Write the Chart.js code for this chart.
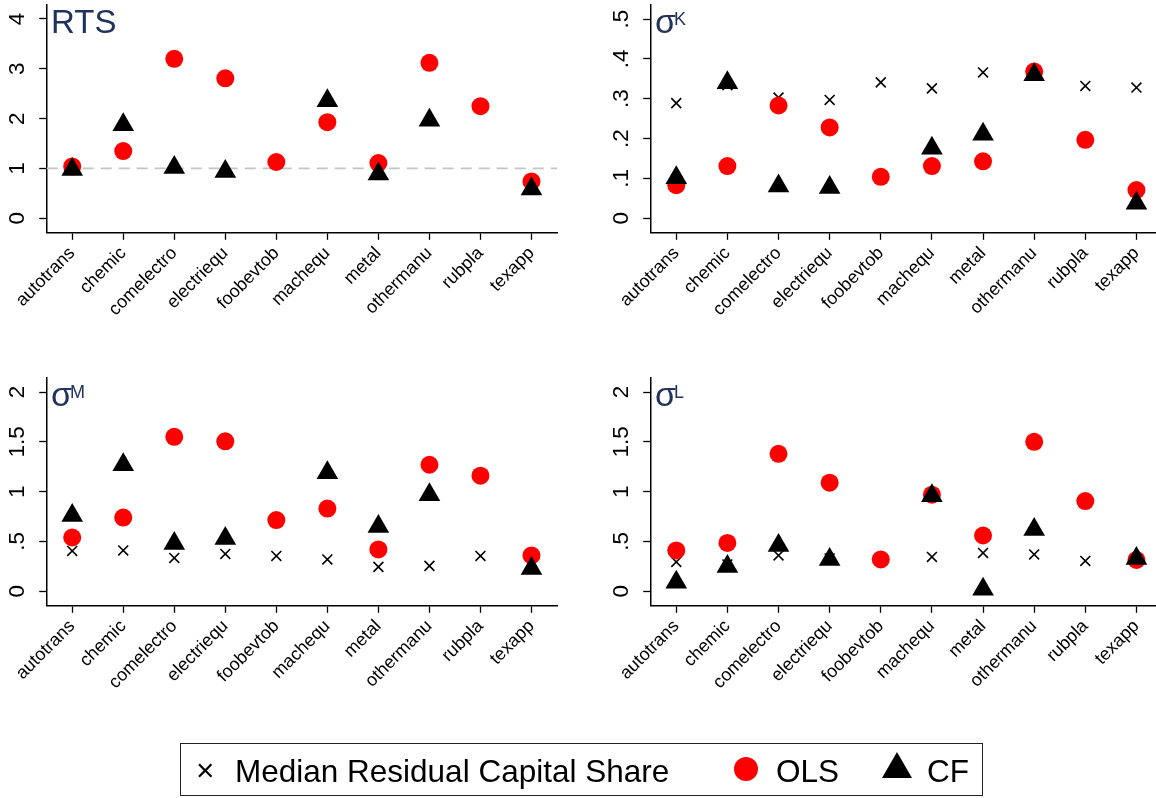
<!DOCTYPE html>
<html lang="en">
<head>
  <meta charset="UTF-8" />
  <title>RTS and elasticities by industry</title>
  <script src="https://cdn.jsdelivr.net/npm/chart.js"></script>
  <style>
    body {
      margin: 0;
      padding: 0;
      background: #ffffff;
      overflow: hidden;
      font-family: "Liberation Sans", Arial, Helvetica, sans-serif;
    }

    .page {
      position: relative;
      width: 1156px;
      height: 798px;
      overflow: hidden;
    }

    canvas {
      position: absolute;
    }

    .ttl {
      position: absolute;
      color: #22325f;
      line-height: 1;
      white-space: nowrap;
    }

    .legend {
      position: absolute;
      left: 180px;
      top: 743px;
      width: 801px;
      height: 51px;
      border: 1.5px solid #222;
    }

    .legend span {
      position: absolute;
      font-size: 31.5px;
      line-height: 1;
      color: #000;
      white-space: nowrap;
    }

    .dot {
      position: absolute;
      width: 24px;
      height: 24px;
      border-radius: 50%;
      background: #ff0000;
    }

    .tri {
      position: absolute;
      width: 0;
      height: 0;
      border-left: 15px solid transparent;
      border-right: 15px solid transparent;
      border-bottom: 26px solid #000;
    }
  </style>
</head>
<body>
  <div class="page">
    <canvas id="rts" width="578" height="372" style="left:0; top:0;"></canvas>
    <canvas id="sigK" width="566" height="372" style="left:604px; top:0;"></canvas>
    <canvas id="sigM" width="578" height="372" style="left:0; top:373px;"></canvas>
    <canvas id="sigL" width="566" height="372" style="left:604px; top:373px;"></canvas>

    <div class="ttl" style="left:51px; top:4.5px; font-size:33px;">RTS</div>
    <div class="ttl" style="left:655px; top:3.5px; font-size:34px;">σ</div>
    <div class="ttl" style="left:674px; top:9.5px; font-size:18px;">K</div>
    <div class="ttl" style="left:51px; top:377px; font-size:34px;">σ</div>
    <div class="ttl" style="left:70px; top:383px; font-size:18px;">M</div>
    <div class="ttl" style="left:655px; top:377px; font-size:34px;">σ</div>
    <div class="ttl" style="left:674px; top:383px; font-size:18px;">L</div>

    <div class="legend">
      <span style="left:15px; top:11px;">×</span>
      <span style="left:54px; top:11.5px;">Median Residual Capital Share</span>
      <div class="dot" style="left:553px; top:13px;"></div>
      <span style="left:595px; top:11.5px;">OLS</span>
      <div class="tri" style="left:701px; top:8px;"></div>
      <span style="left:746px; top:11.5px;">CF</span>
    </div>
  </div>

  <script>
    const industries = ['autotrans', 'chemic', 'comelectro', 'electriequ', 'foobevtob',
                        'machequ', 'metal', 'othermanu', 'rubpla', 'texapp'];

    // RTS panel (no median residual capital share here)
    const rtsOLS = [1.04, 1.35, 3.20, 2.81, 1.13, 1.93, 1.11, 3.12, 2.25, 0.74];
    const rtsCF  = [0.98, 1.88, 1.02, 0.94, null, 2.36, 0.89, 1.97, null, 0.59];
    const rtsTicks = [0, 1, 2, 3, 4];

    // sigma K
    const sigKMedian = [0.289, 0.334, 0.303, 0.297, 0.341, 0.326, 0.366, 0.370, 0.332, 0.328];
    const sigKOLS    = [0.083, 0.131, 0.283, 0.228, 0.104, 0.131, 0.143, 0.368, 0.197, 0.071];
    const sigKCF     = [0.102, 0.340, 0.081, 0.077, null, 0.176, 0.211, 0.360, null, 0.038];
    const sigKTicks = [0, 0.1, 0.2, 0.3, 0.4, 0.5];

    // sigma M
    const sigMMedian = [0.405, 0.410, 0.335, 0.375, 0.355, 0.320, 0.245, 0.255, 0.355, 0.300];
    const sigMOLS    = [0.54, 0.74, 1.55, 1.505, 0.715, 0.83, 0.42, 1.27, 1.16, 0.36];
    const sigMCF     = [0.76, 1.27, 0.48, 0.53, null, 1.19, 0.65, 0.97, null, 0.23];

    // sigma L
    const sigLMedian = [0.295, 0.270, 0.360, 0.330, 0.320, 0.345, 0.385, 0.370, 0.305, 0.330];
    const sigLOLS    = [0.41, 0.485, 1.38, 1.09, 0.32, 0.97, 0.56, 1.50, 0.905, 0.315];
    const sigLCF     = [0.09, 0.25, 0.46, 0.32, null, 0.96, 0.02, 0.62, null, 0.33];
    const sigMLTicks = [0, 0.5, 1, 1.5, 2];

    const FONT = '"Liberation Sans", Arial, Helvetica, sans-serif';

    function fmtTick(v) {
      if (v === 0) return '0';
      const s = String(Math.round(v * 100) / 100);
      return s.startsWith('0.') ? s.slice(1) : s;
    }

    // grey dashed line at y = 1 on the RTS panel
    const refLine = {
      id: 'refLine',
      beforeDatasetsDraw(chart, args, opts) {
        if (opts.value == null) return;
        const { ctx, chartArea } = chart;
        const y = chart.scales.y.getPixelForValue(opts.value);
        ctx.save();
        ctx.strokeStyle = '#c4c4c4';
        ctx.lineWidth = 1.8;
        ctx.setLineDash([11, 7]);
        ctx.beginPath();
        ctx.moveTo(chartArea.left, y);
        ctx.lineTo(chartArea.right, y);
        ctx.stroke();
        ctx.restore();
      }
    };

    function medianSet(data) {
      return {
        label: 'Median Residual Capital Share', data: data, order: 3,
        pointStyle: 'crossRot', pointRadius: 7, borderColor: '#000', borderWidth: 1.6,
        backgroundColor: 'rgba(0,0,0,0)', showLine: false
      };
    }
    function olsSet(data) {
      return {
        label: 'OLS', data: data, order: 2,
        pointStyle: 'circle', pointRadius: 9, backgroundColor: '#ff0000', borderWidth: 0, showLine: false
      };
    }
    function cfSet(data) {
      return {
        label: 'CF', data: data, order: 1,
        pointStyle: 'triangle', pointRadius: 12.5, backgroundColor: '#000', borderWidth: 0, showLine: false
      };
    }

    function makePanel(id, datasets, ticks, yMin, yMax, tickPad, padRight, ref) {
      const axisGrid = {
        display: true, drawOnChartArea: false, drawTicks: true,
        tickLength: 7.5, tickColor: '#000', tickWidth: 1.3
      };
      return new Chart(document.getElementById(id), {
        type: 'line',
        data: { labels: industries, datasets: datasets },
        plugins: ref != null ? [refLine] : [],
        options: {
          responsive: false,
          animation: false,
          events: [],
          clip: false,
          layout: { autoPadding: false, padding: { top: 4.5, right: padRight, left: 0, bottom: 0 } },
          plugins: {
            legend: { display: false },
            tooltip: { enabled: false },
            refLine: { value: ref }
          },
          scales: {
            x: {
              type: 'category',
              offset: true,
              grid: axisGrid,
              border: { display: true, color: '#000', width: 1.5 },
              ticks: {
                autoSkip: false, minRotation: 45, maxRotation: 45, padding: 3,
                color: '#000', font: { family: FONT, size: 18 }
              },
              afterFit(s) { s.height = 139.7; s.paddingLeft = 0; s.paddingRight = 0; }
            },
            y: {
              type: 'linear',
              min: yMin,
              max: yMax,
              grid: axisGrid,
              border: { display: true, color: '#000', width: 1.5 },
              afterBuildTicks(s) { s.ticks = ticks.map(v => ({ value: v })); },
              ticks: {
                minRotation: 90, maxRotation: 90, crossAlign: 'center', padding: tickPad,
                color: '#000', font: { family: FONT, size: 22.5 },
                callback: v => fmtTick(v)
              },
              afterFit(s) { s.width = 46.7; s.paddingTop = 0; s.paddingBottom = 0; }
            }
          }
        }
      });
    }

    makePanel('rts', [olsSet(rtsOLS), cfSet(rtsCF)], rtsTicks, -0.281, 4.291, 14.9, 21, 1);
    makePanel('sigK', [medianSet(sigKMedian), olsSet(sigKOLS), cfSet(sigKCF)], sigKTicks, -0.0351, 0.5364, 11.8, 8, null);
    makePanel('sigM', [medianSet(sigMMedian), olsSet(sigMOLS), cfSet(sigMCF)], sigMLTicks, -0.1405, 2.1456, 5.5, 21, null);
    makePanel('sigL', [medianSet(sigLMedian), olsSet(sigLOLS), cfSet(sigLCF)], sigMLTicks, -0.1405, 2.1456, 5.5, 8, null);
  </script>
</body>
</html>
